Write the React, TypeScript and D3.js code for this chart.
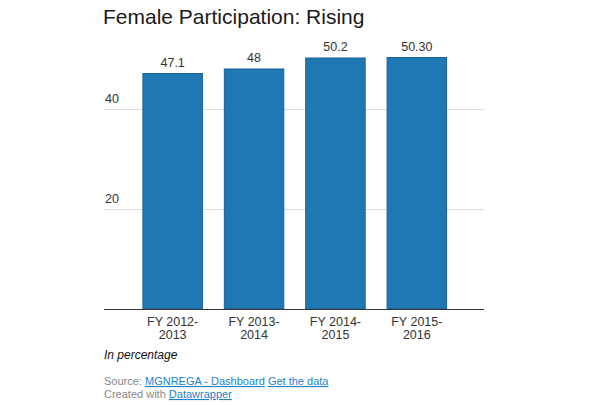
import { useEffect } from "react";
import * as d3 from "d3";

const years = ["FY 2012-2013", "FY 2013-2014", "FY 2014-2015", "FY 2015-2016"];
const labels = ["47.1", "48", "50.2", "50.30"];
const values = [47.1, 48, 50.2, 50.3];
const ticks = [20, 40];

const W = 611;
const H = 405;
const font = "'Liberation Sans', Arial, Helvetica, sans-serif";

export default function App() {
  useEffect(() => {
    document.body.style.margin = "0";
  }, []);

  const y = d3.scaleLinear().domain([0, 20]).range([309, 209]);
  const x = d3
    .scaleBand<string>()
    .domain(years)
    .range([132, 457.5])
    .paddingInner(0.257)
    .paddingOuter(0.128);

  return (
    <svg width={W} height={H} style={{ display: "block", background: "#fff" }} fontFamily={font}>
      <text x={103} y={24} fontSize={21} fill="#1a1a1a">
        Female Participation: Rising
      </text>

      {/* Gitterlinien */}
      {ticks.map((t) => (
        <g key={t}>
          <line x1={104} x2={484} y1={y(t) + 0.5} y2={y(t) + 0.5} stroke="#dcdcdc" />
          <text x={105} y={y(t) - 6} fontSize={12.5} fill="#333">
            {t}
          </text>
        </g>
      ))}

      {/* Balken */}
      {values.map((v, i) => (
        <g key={years[i]}>
          <rect
            x={(x(years[i]) ?? 0) + 0.5}
            y={y(v)}
            width={x.bandwidth() - 1}
            height={y(0) - y(v)}
            fill="#1f77b4"
            stroke="#1a5f95"
            strokeWidth={1}
          />
          <text
            x={(x(years[i]) ?? 0) + x.bandwidth() / 2}
            y={y(v) - 7}
            textAnchor="middle"
            fontSize={12.5}
            fill="#333"
          >
            {labels[i]}
          </text>
          <text
            x={(x(years[i]) ?? 0) + x.bandwidth() / 2}
            textAnchor="middle"
            fontSize={12.5}
            fill="#333"
          >
            <tspan x={(x(years[i]) ?? 0) + x.bandwidth() / 2} y={326}>
              {years[i].split("-")[0] + "-"}
            </tspan>
            <tspan x={(x(years[i]) ?? 0) + x.bandwidth() / 2} y={339}>
              {years[i].split("-")[1]}
            </tspan>
          </text>
        </g>
      ))}

      <line x1={104} x2={484} y1={y(0) + 0.5} y2={y(0) + 0.5} stroke="#333" />

      <text x={104} y={359} fontSize={12} fontStyle="italic" fill="#111">
        In percentage
      </text>

      <text x={104} y={385} fontSize={11} fill="#888">
        Source:{" "}
        <tspan fill="#1d81cc" textDecoration="underline">MGNREGA - Dashboard</tspan>{" "}
        <tspan fill="#1d81cc" textDecoration="underline">Get the data</tspan>
      </text>
      <text x={104} y={398} fontSize={11} fill="#888">
        Created with{" "}
        <tspan fill="#1d81cc" textDecoration="underline">Datawrapper</tspan>
      </text>
    </svg>
  );
}
